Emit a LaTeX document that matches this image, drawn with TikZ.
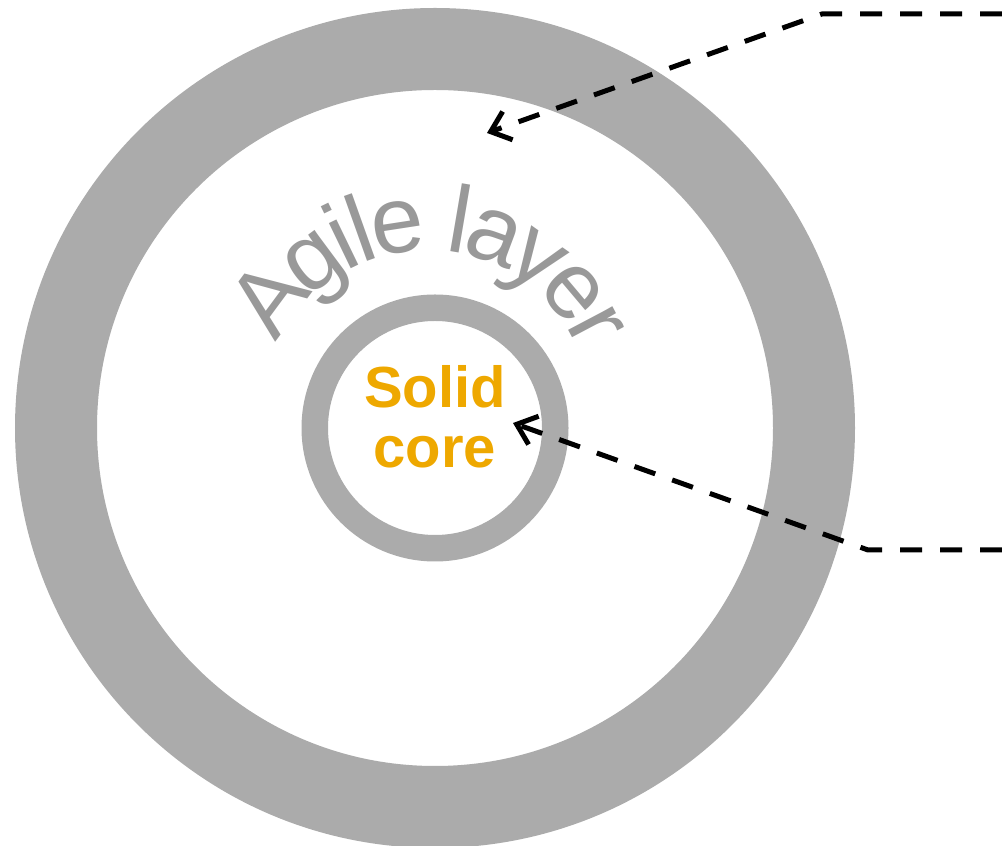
\documentclass[tikz,border=0pt]{standalone}
\usepackage{fontspec}
\setmainfont{Liberation Sans}
\usetikzlibrary{arrows.meta,decorations.text}
\definecolor{ringgray}{HTML}{ABABAB}
\definecolor{textgray}{HTML}{999999}
\definecolor{coreorange}{HTML}{EEA800}
\begin{document}
\begin{tikzpicture}[x=1pt,y=1pt,
  ring/.style={circle, draw=ringgray, inner sep=0pt, outer sep=0pt},
  callout/.style={draw=black, line width=5pt, dash pattern=on 22pt off 18pt,
    -{Straight Barb[length=18pt,width=30pt]}}]
\useasboundingbox (0,0) rectangle (1002,846);
\node[ring, line width=82pt, minimum size=758pt] (outer) at (435,418) {};
\node[ring, line width=26.5pt, minimum size=240.5pt] (corering) at (435,418) {};
\node[text=coreorange, font=\bfseries\fontsize{58}{60}\selectfont, align=center, inner sep=0pt] (core) at (435,429) {Solid\\core};
\path[decorate, decoration={text along path, text align=center, text color=textgray, raise=-31pt,
  text={|\fontsize{95}{95}\selectfont|Agile layer}}] (231.1,437.5) arc[start angle=178, end angle=-2, radius=196];
\coordinate (s1) at (1002,832);
\coordinate (b1) at (822,832);
\coordinate (t1) at (487,713);
\draw[callout] (s1) -- (b1) -- (t1);
\coordinate (s2) at (1002,296);
\coordinate (b2) at (868,296);
\coordinate (t2) at (513,423);
\draw[callout] (s2) -- (b2) -- (t2);
\end{tikzpicture}
\end{document}
